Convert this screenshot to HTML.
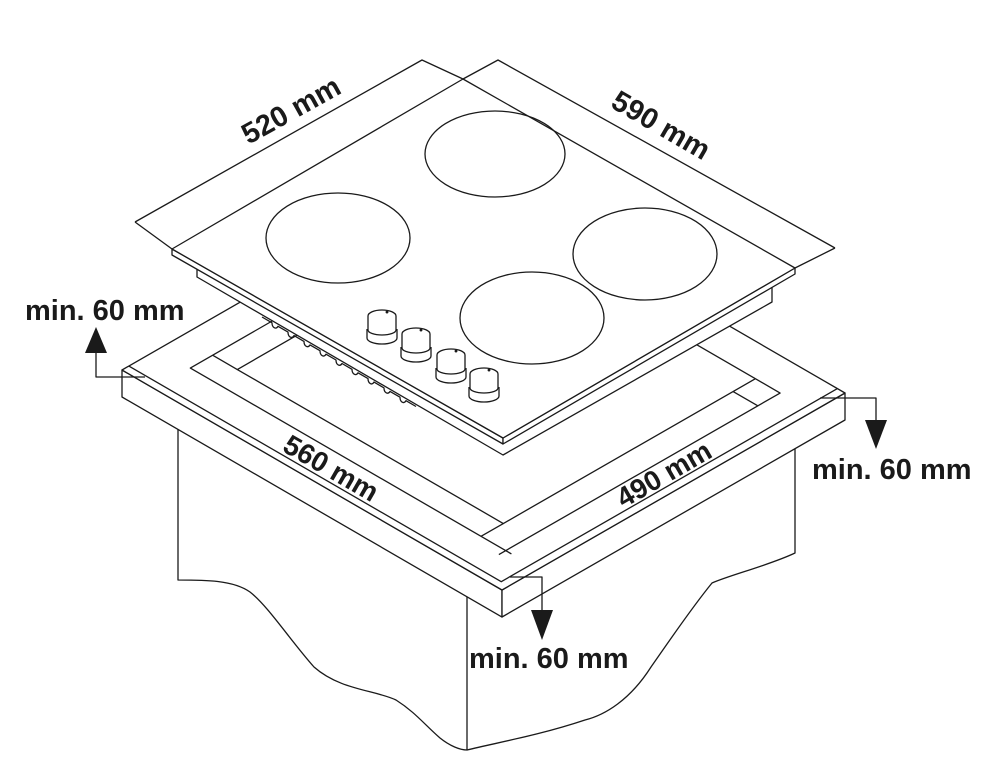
<!DOCTYPE html>
<html><head><meta charset="utf-8">
<style>
html,body{margin:0;padding:0;background:#fff;}
svg{display:block;}
text{font-family:"Liberation Sans",Arial,sans-serif;font-weight:bold;fill:#1a1a1a;}
</style></head>
<body>
<svg width="1008" height="780" viewBox="0 0 1008 780" xmlns="http://www.w3.org/2000/svg">
<g fill="none" stroke="#1a1a1a" stroke-width="1.3" stroke-linejoin="round">
  <!-- cabinet -->
  <path d="M178,428 L178,580 C205,580 233,580 250,592 C268,606 290,640 314,667 C340,690 375,690 396,700 C415,712 425,725 440,738 C450,746 460,750 467,750 L467,597" fill="#fff"/>
  <path d="M795,449 L795,553 C770,565 730,575 712,583 C690,610 670,640 651,667 C630,700 605,715 585,720 C540,735 500,742 467,750"/>

  <!-- countertop slab front faces -->
  <polygon points="122,370 502,590 502,617 122,397" fill="#fff"/>
  <polygon points="502,590 845,393 845,420 502,617" fill="#fff"/>

  <!-- countertop top (plan coordinates) -->
  <g transform="matrix(380,220,343,-197,122,370)">
    <polygon points="0,0 1,0 1,1 0,1" fill="#fff" vector-effect="non-scaling-stroke"/>
    <path d="M0,0.02 L0.98,0.02 L0.98,1" vector-effect="non-scaling-stroke"/>
    <path d="M0.085,1 L0.085,0.105 L0.93,0.105 M0.915,0.085 L0.915,0.905 L0.085,0.905" vector-effect="non-scaling-stroke"/>
    <path d="M0.15,0.905 L0.15,0.17 L0.85,0.17 L0.85,0.905" vector-effect="non-scaling-stroke"/>
    <path d="M0.085,0.17 L0.15,0.17 M0.85,0.105 L0.85,0.17 M0.915,0.84 L0.85,0.84 M0.15,0.84 L0.085,0.84" vector-effect="non-scaling-stroke"/>
  </g>

  <!-- hob body -->
  <path d="M197,262 L197,277 L503,455 L772,302 L772,285" fill="#fff"/>
  <!-- notched strip -->
  <path d="M262,317 l10,5.8 c0,5 4,7 6,3.5 l10,5.8 c0,5 4,7 6,3.5 l10,5.8 c0,5 4,7 6,3.5 l10,5.8 c0,5 4,7 6,3.5 l10,5.8 c0,5 4,7 6,3.5 l10,5.8 c0,5 4,7 6,3.5 l10,5.8 c0,5 4,7 6,3.5 l10,5.8 c0,5 4,7 6,3.5 l10,5.8 c0,5 4,7 6,3.5 l10,5.8"/>
  <!-- glass -->
  <polygon points="172,249 503,438 503,444 172,255" fill="#fff"/>
  <polygon points="503,438 795,268 795,274 503,444" fill="#fff"/>
  <polygon points="172,249 463,79 795,268 503,438" fill="#fff"/>

  <!-- burners -->
  <ellipse cx="495" cy="154" rx="70" ry="43"/>
  <ellipse cx="338" cy="238" rx="72" ry="45"/>
  <ellipse cx="645" cy="254" rx="72" ry="46"/>
  <ellipse cx="532" cy="318" rx="72" ry="46"/>

  <!-- dimension lines top -->
  <path d="M135,222 L422,60 L463,79"/>
  <path d="M135,222 L172,249"/>
  <path d="M835,248 L498,60 L463,79"/>
  <path d="M835,248 L795,268"/>

  <!-- arrow lines -->
  <path d="M145,377 L96,377 L96,350"/>
  <path d="M820,398 L876,398 L876,422"/>
  <path d="M510,577 L542,577 L542,612"/>
</g>

<!-- knobs -->
<g fill="#fff" stroke="#1a1a1a" stroke-width="1.3">
  <g transform="translate(382,310)">
    <path d="M-15,19 L-15,28 A15,6 0 0 0 15,28 L15,19"/>
    <path d="M-14,6 L-14,20 A14,5 0 0 0 14,20 L14,6 A14,6 0 0 0 -14,6 Z"/>
    <circle cx="5" cy="2" r="0.8" fill="#1a1a1a"/>
  </g>
  <g transform="translate(416,328)">
    <path d="M-15,19 L-15,28 A15,6 0 0 0 15,28 L15,19"/>
    <path d="M-14,6 L-14,20 A14,5 0 0 0 14,20 L14,6 A14,6 0 0 0 -14,6 Z"/>
    <circle cx="5" cy="2" r="0.8" fill="#1a1a1a"/>
  </g>
  <g transform="translate(451,349)">
    <path d="M-15,19 L-15,28 A15,6 0 0 0 15,28 L15,19"/>
    <path d="M-14,6 L-14,20 A14,5 0 0 0 14,20 L14,6 A14,6 0 0 0 -14,6 Z"/>
    <circle cx="5" cy="2" r="0.8" fill="#1a1a1a"/>
  </g>
  <g transform="translate(484,368)">
    <path d="M-15,19 L-15,28 A15,6 0 0 0 15,28 L15,19"/>
    <path d="M-14,6 L-14,20 A14,5 0 0 0 14,20 L14,6 A14,6 0 0 0 -14,6 Z"/>
    <circle cx="5" cy="2" r="0.8" fill="#1a1a1a"/>
  </g>
</g>

<!-- arrowheads -->
<g fill="#1a1a1a">
  <polygon points="96,327 85,353 107,353"/>
  <polygon points="876,449 865,420 887,420"/>
  <polygon points="542,640 531,610 553,610"/>
</g>

<!-- labels -->
<text x="25" y="320" font-size="29">min. 60 mm</text>
<text x="812" y="479" font-size="29">min. 60 mm</text>
<text x="469" y="668" font-size="29">min. 60 mm</text>
<text x="292" y="112" font-size="29" text-anchor="middle" dominant-baseline="middle" transform="rotate(-29 292 112)">520 mm</text>
<text x="660" y="127" font-size="29" text-anchor="middle" dominant-baseline="middle" transform="rotate(30 660 127)">590 mm</text>
<text x="330" y="470" font-size="28" text-anchor="middle" dominant-baseline="middle" transform="rotate(30 330 470)">560 mm</text>
<text x="665" y="476" font-size="28" text-anchor="middle" dominant-baseline="middle" transform="rotate(-30 665 476)">490 mm</text>
</svg>
</body></html>
